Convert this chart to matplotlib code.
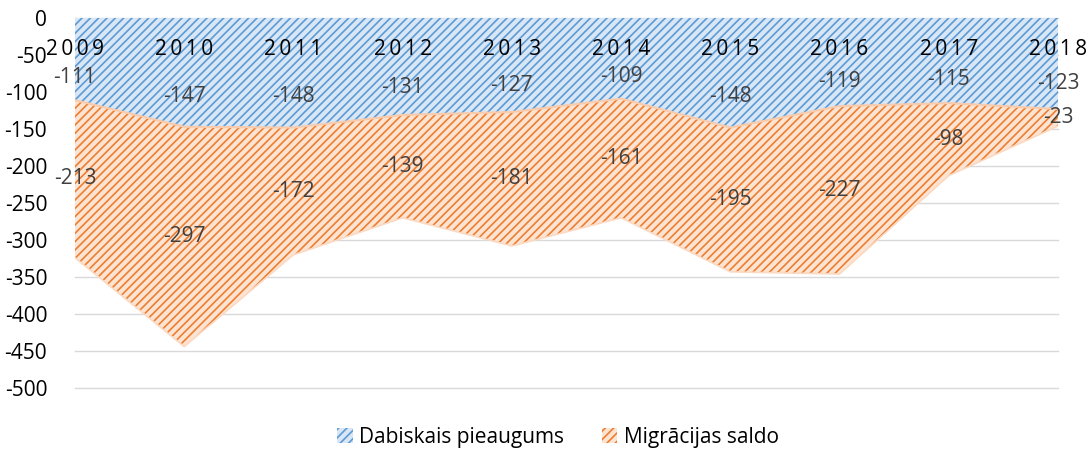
import matplotlib
matplotlib.use("Agg")
import matplotlib.pyplot as plt
import numpy as np
from matplotlib.patches import Patch

years = ["2009", "2010", "2011", "2012", "2013", "2014", "2015", "2016", "2017", "2018"]
natural = [-111, -147, -148, -131, -127, -109, -148, -119, -115, -123]
migration = [-213, -297, -172, -139, -181, -161, -195, -227, -98, -23]
series_names = ["Dabiskais pieaugums", "Migrācijas saldo"]
yticks = list(range(0, -550, -50))

plt.rcParams['font.family'] = ['Open Sans', 'DejaVu Sans']
plt.rcParams['hatch.linewidth'] = 1.2

fig = plt.figure(figsize=(10.92, 4.5), dpi=100)
ax = fig.add_axes([75/1092, 1-388/450, (1058-75)/1092, (388-18)/450])

x = np.arange(len(years))
nat = np.array(natural, dtype=float)
mig = np.array(migration, dtype=float)
total = nat + mig

blue_bg, blue_h = "#d9e6f5", "#5b9bd5"
orange_bg, orange_h = "#fde4d2", "#ed7d31"

for yv in yticks:
    ax.axhline(yv, color="#d9d9d9", lw=1, zorder=0, clip_on=False)

ax.fill_between(x, 0, nat, facecolor=blue_bg, edgecolor=blue_h, hatch="////", lw=0, zorder=2)
ax.fill_between(x, nat, total, facecolor=orange_bg, edgecolor=orange_h, hatch="////", lw=0, zorder=2)
ax.plot(x, nat, color="#f8cbad", lw=1.5, zorder=3)
ax.plot(x, total, color="#fbd9c2", lw=1.2, zorder=3)

ax.set_xlim(0, len(years)-1)
ax.set_ylim(-500, 0)
ax.set_yticks(yticks)
ax.set_yticklabels([str(v) for v in yticks], fontsize=15, color="#000000")
ax.tick_params(axis='y', length=0, pad=20)
ax.set_xticks([])
for s in ax.spines.values():
    s.set_visible(False)

for i, yr in enumerate(years):
    ax.text(x[i], -43, "\u2009".join(yr), ha="center", va="center", fontsize=15, color="#000000", zorder=5)
    ax.text(x[i], nat[i]*0.72, str(natural[i]), ha="center", va="center", fontsize=15, color="#404040", zorder=5)
    ax.text(x[i], nat[i] + mig[i]/2, str(migration[i]), ha="center", va="center", fontsize=15, color="#404040", zorder=5)

handles = [Patch(facecolor=blue_bg, edgecolor=blue_h, hatch="////", lw=0),
           Patch(facecolor=orange_bg, edgecolor=orange_h, hatch="////", lw=0)]
fig.legend(handles, series_names, loc="center", bbox_to_anchor=(558/1092, 1-437/450), ncol=2,
           frameon=False, fontsize=15, handlelength=0.75, handleheight=0.75, columnspacing=1.8, handletextpad=0.3)

fig.savefig("out.png", dpi=100)
